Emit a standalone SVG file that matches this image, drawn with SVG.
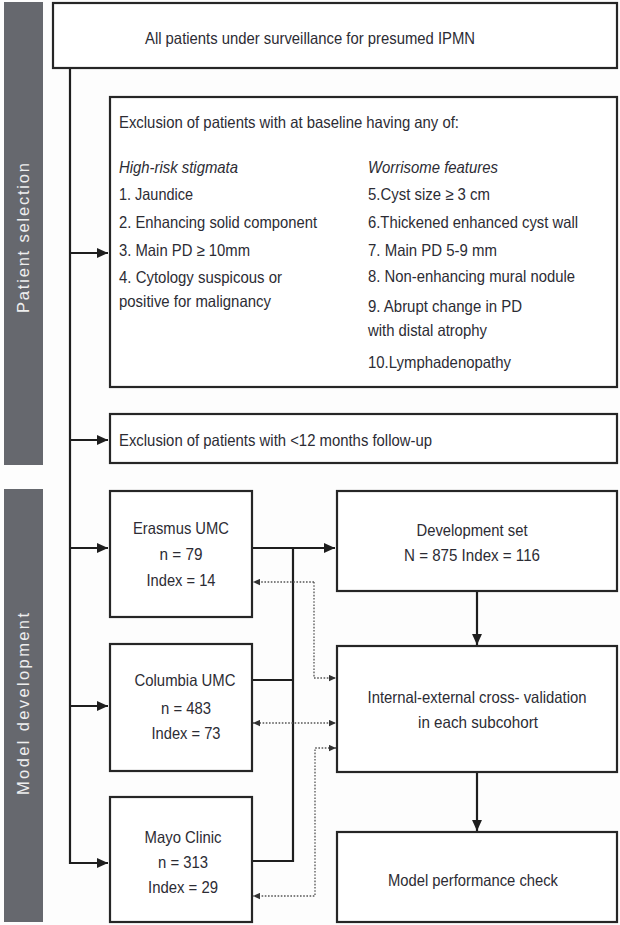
<svg xmlns="http://www.w3.org/2000/svg" width="620" height="925" viewBox="0 0 620 925">
<style>
.bg{fill:#fdfdfd}
.side{fill:#66686e}
.sidet{font-family:"Liberation Sans",Arial,sans-serif;font-size:16.5px;fill:#eeeeee}
.box{fill:#ffffff;stroke:#262626;stroke-width:2.2}
.t{font-family:"Liberation Sans",Arial,sans-serif;font-size:16.5px;fill:#2c2c34}
.it{font-style:italic}
.c{text-anchor:middle}
.ln{fill:none;stroke:#1e1e1e;stroke-width:2.2}
.dot{fill:none;stroke:#555;stroke-width:1.3;stroke-dasharray:1.6 1.6}
</style>
<defs>
<marker id="ah" viewBox="0 0 10 10" refX="10" refY="5" markerWidth="12" markerHeight="11" markerUnits="userSpaceOnUse" orient="auto-start-reverse">
<path d="M0,0.5 L10,5 L0,9.5 z" fill="#1e1e1e"/>
</marker>
<marker id="dh" viewBox="0 0 10 10" refX="10" refY="5" markerWidth="8" markerHeight="7" markerUnits="userSpaceOnUse" orient="auto-start-reverse">
<path d="M0,0.5 L10,5 L0,9.5 z" fill="#333"/>
</marker>
</defs>
<rect class="bg" x="0" y="0" width="620" height="925"/>

<g id="side-patient-selection">
<rect class="side" x="4" y="2" width="39" height="463"/>
<text class="sidet" transform="translate(29,313) rotate(-90)" textLength="150" lengthAdjust="spacing">Patient selection</text>
</g>
<g id="side-model-development">
<rect class="side" x="4" y="489" width="39" height="433"/>
<text class="sidet" transform="translate(29,795) rotate(-90)" textLength="182" lengthAdjust="spacing">Model development</text>
</g>

<g id="connectors">
<path class="ln" d="M70,68 V863 H108" marker-end="url(#ah)"/>
<path class="ln" d="M70,253 H108" marker-end="url(#ah)"/>
<path class="ln" d="M70,440 H108" marker-end="url(#ah)"/>
<path class="ln" d="M70,548 H108" marker-end="url(#ah)"/>
<path class="ln" d="M70,706 H108" marker-end="url(#ah)"/>
<path class="ln" d="M252,548 H335" marker-end="url(#ah)"/>
<path class="ln" d="M252,680 H293"/>
<path class="ln" d="M252,861 H293 V548"/>
<path class="ln" d="M477,591 V645" marker-end="url(#ah)"/>
<path class="ln" d="M477,772 V831" marker-end="url(#ah)"/>
<path class="dot" d="M314,582 H253" marker-end="url(#dh)"/>
<path class="dot" d="M314,582 V678 H336" marker-end="url(#dh)"/>
<path class="dot" d="M253,723 H336" marker-start="url(#dh)" marker-end="url(#dh)"/>
<path class="dot" d="M336,748 H315 V896 H253" marker-start="url(#dh)" marker-end="url(#dh)"/>
</g>

<g id="all-patients">
<rect class="box" x="53" y="3" width="564" height="65"/>
<text class="t" x="145" y="44" textLength="330" lengthAdjust="spacingAndGlyphs">All patients under surveillance for presumed IPMN</text>
</g>

<g id="exclusion-baseline">
<rect class="box" x="110" y="97" width="507" height="290"/>
<text class="t" x="119" y="128" textLength="340" lengthAdjust="spacingAndGlyphs">Exclusion of patients with at baseline having any of:</text>
<text class="t it" x="119" y="173" textLength="119" lengthAdjust="spacingAndGlyphs">High-risk stigmata</text>
<text class="t" x="119" y="200" textLength="74" lengthAdjust="spacingAndGlyphs">1. Jaundice</text>
<text class="t" x="119" y="228" textLength="198" lengthAdjust="spacingAndGlyphs">2. Enhancing solid component</text>
<text class="t" x="119" y="256" textLength="131" lengthAdjust="spacingAndGlyphs">3. Main PD ≥ 10mm</text>
<text class="t" x="119" y="283" textLength="163" lengthAdjust="spacingAndGlyphs">4. Cytology suspicous or</text>
<text class="t" x="119" y="307" textLength="152" lengthAdjust="spacingAndGlyphs">positive for malignancy</text>
<text class="t it" x="368" y="173" textLength="130" lengthAdjust="spacingAndGlyphs">Worrisome features</text>
<text class="t" x="368" y="200" textLength="122" lengthAdjust="spacingAndGlyphs">5.Cyst size ≥ 3 cm</text>
<text class="t" x="368" y="228" textLength="210" lengthAdjust="spacingAndGlyphs">6.Thickened enhanced cyst wall</text>
<text class="t" x="368" y="256" textLength="129" lengthAdjust="spacingAndGlyphs">7. Main PD 5-9 mm</text>
<text class="t" x="368" y="282" textLength="207" lengthAdjust="spacingAndGlyphs">8. Non-enhancing mural nodule</text>
<text class="t" x="368" y="312" textLength="154" lengthAdjust="spacingAndGlyphs">9. Abrupt change in PD</text>
<text class="t" x="368" y="336" textLength="119" lengthAdjust="spacingAndGlyphs">with distal atrophy</text>
<text class="t" x="368" y="368" textLength="143" lengthAdjust="spacingAndGlyphs">10.Lymphadenopathy</text>
</g>

<g id="exclusion-followup">
<rect class="box" x="110" y="414" width="507" height="49"/>
<text class="t" x="119" y="446" textLength="313" lengthAdjust="spacingAndGlyphs">Exclusion of patients with &lt;12 months follow-up</text>
</g>

<g id="erasmus">
<rect class="box" x="110" y="491" width="142" height="126"/>
<text class="t c" x="181" y="534" textLength="96" lengthAdjust="spacingAndGlyphs">Erasmus UMC</text>
<text class="t c" x="181" y="560" textLength="43" lengthAdjust="spacingAndGlyphs">n = 79</text>
<text class="t c" x="181" y="586" textLength="69" lengthAdjust="spacingAndGlyphs">Index = 14</text>
</g>

<g id="columbia">
<rect class="box" x="110" y="644" width="142" height="127"/>
<text class="t c" x="185" y="686" textLength="101" lengthAdjust="spacingAndGlyphs">Columbia UMC</text>
<text class="t c" x="186" y="714" textLength="50" lengthAdjust="spacingAndGlyphs">n = 483</text>
<text class="t c" x="186" y="739" textLength="69" lengthAdjust="spacingAndGlyphs">Index = 73</text>
</g>

<g id="mayo">
<rect class="box" x="110" y="797" width="142" height="125"/>
<text class="t c" x="183" y="843" textLength="77" lengthAdjust="spacingAndGlyphs">Mayo Clinic</text>
<text class="t c" x="183" y="868" textLength="50" lengthAdjust="spacingAndGlyphs">n = 313</text>
<text class="t c" x="183" y="893" textLength="70" lengthAdjust="spacingAndGlyphs">Index = 29</text>
</g>

<g id="development-set">
<rect class="box" x="337" y="491" width="280" height="100"/>
<text class="t c" x="472" y="536" textLength="111" lengthAdjust="spacingAndGlyphs">Development set</text>
<text class="t c" x="472" y="561" textLength="136" lengthAdjust="spacingAndGlyphs">N = 875 Index = 116</text>
</g>

<g id="cross-validation">
<rect class="box" x="337" y="646" width="280" height="126"/>
<text class="t c" x="477" y="703" textLength="219" lengthAdjust="spacingAndGlyphs">Internal-external cross- validation</text>
<text class="t c" x="478" y="728" textLength="120" lengthAdjust="spacingAndGlyphs">in each subcohort</text>
</g>

<g id="performance-check">
<rect class="box" x="337" y="832" width="280" height="90"/>
<text class="t c" x="473" y="886" textLength="170" lengthAdjust="spacingAndGlyphs">Model performance check</text>
</g>
</svg>
